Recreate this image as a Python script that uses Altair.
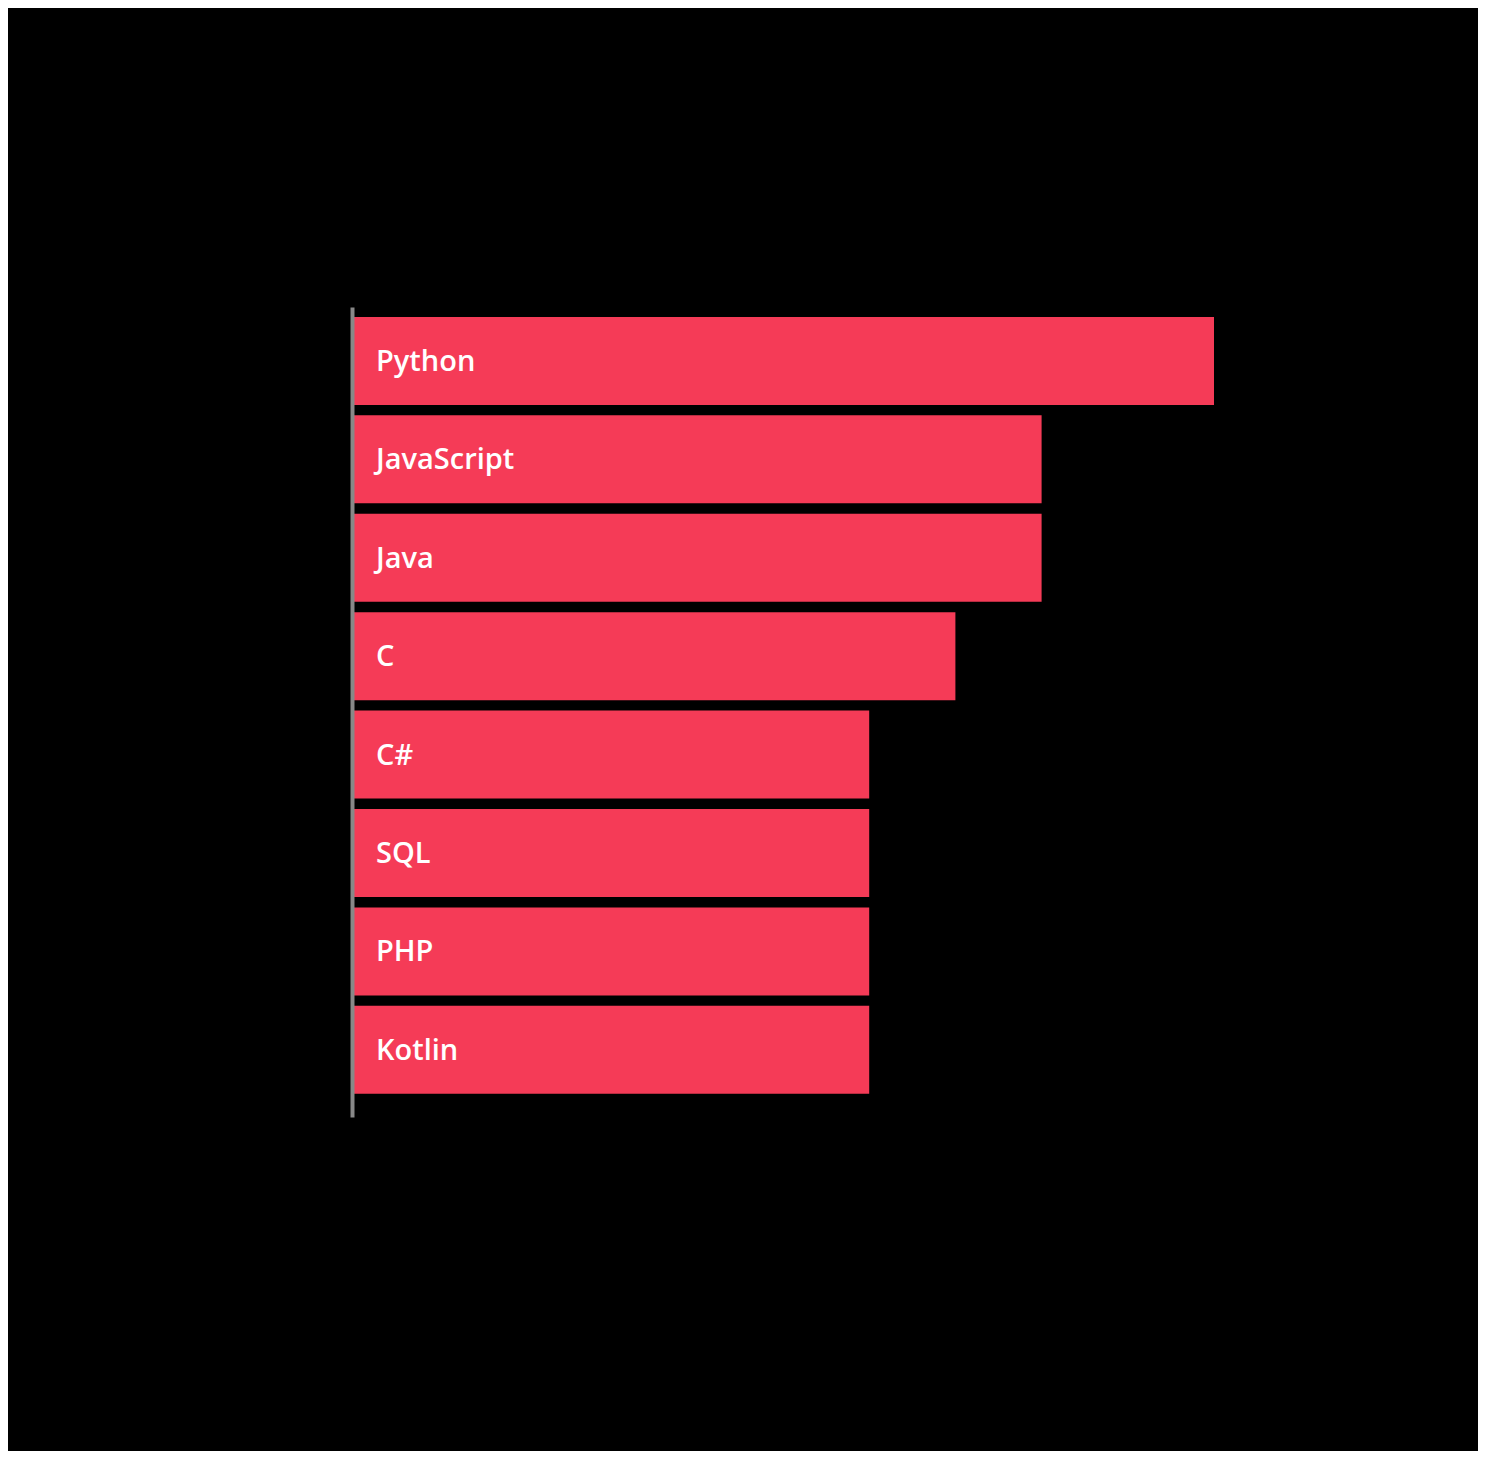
import altair as alt
import pandas as pd

languages = ["Python", "JavaScript", "Java", "C", "C#", "SQL", "PHP", "Kotlin"]
scores = [5, 4, 4, 3.5, 3, 3, 3, 3]

df = pd.DataFrame({"language": languages, "score": scores})

y_enc = alt.Y(
    "language:N",
    sort=languages,
    scale=alt.Scale(paddingInner=0.106, paddingOuter=0.168, align=0.3),
    axis=alt.Axis(
        labels=False, ticks=False, title=None, grid=False,
        domain=True, domainColor="#888888", domainWidth=4, zindex=1,
    ),
)

bars = alt.Chart(df).mark_bar(color="#F53B57", cornerRadius=0).encode(
    x=alt.X("score:Q", scale=alt.Scale(domain=[0, 5], nice=False), axis=None),
    y=y_enc,
)

labels = alt.Chart(df).mark_text(
    align="left", baseline="middle", dx=24, dy=1, color="white",
    font="Open Sans", fontSize=29, fontWeight=600,
).encode(
    x=alt.datum(0),
    y=alt.Y("language:N", sort=languages),
    text="language:N",
)

chart = alt.layer(bars, labels).properties(
    width=862, height=810,
    background="black",
    autosize=alt.AutoSizeParams(type="none"),
    padding={"left": 344, "top": 299, "right": 264, "bottom": 334},
).configure_view(stroke=None)

chart.save("out.html", embed_options={"renderer": "svg", "actions": False})
